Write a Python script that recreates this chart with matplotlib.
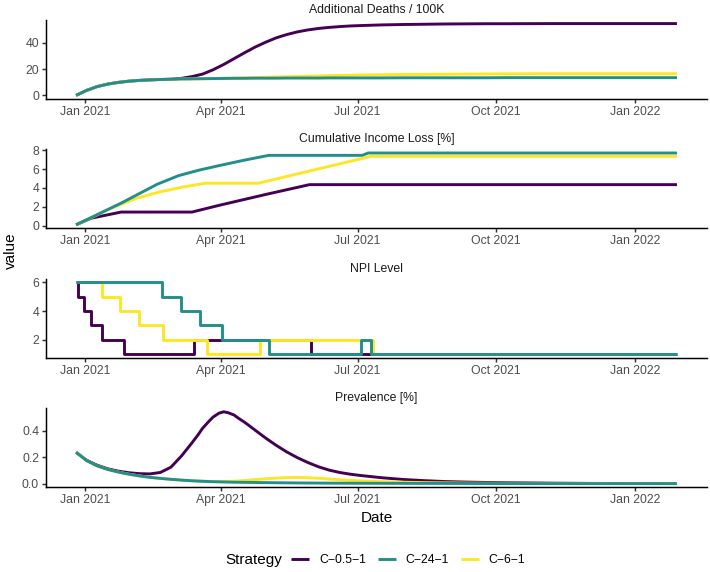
import matplotlib
matplotlib.use("Agg")
import matplotlib.pyplot as plt
import matplotlib.dates as mdates
import pandas as pd

plt.rcParams['font.family'] = ['Liberation Sans', 'DejaVu Sans']

# strategies (legend order) and viridis colours
strategies = ["C\u22120.5\u22121", "C\u221224\u22121", "C\u22126\u22121"]
colors = ["#440154", "#21908C", "#FDE725"]
zorders = [2, 4, 3]

# shared date grid for the smooth series
grid_dates = ["2020-12-26", "2021-01-02", "2021-01-09", "2021-01-16", "2021-01-23",
              "2021-01-30", "2021-02-06", "2021-02-13", "2021-02-20", "2021-02-27",
              "2021-03-06", "2021-03-13", "2021-03-20", "2021-03-27", "2021-04-03",
              "2021-04-10", "2021-04-17", "2021-04-24", "2021-05-01", "2021-05-08",
              "2021-05-15", "2021-05-22", "2021-05-29", "2021-06-05", "2021-06-12",
              "2021-06-19", "2021-06-26", "2021-07-03", "2021-07-17", "2021-07-31",
              "2021-08-14", "2021-08-28", "2021-09-11", "2021-09-25", "2021-10-09",
              "2021-11-06", "2021-12-04", "2022-01-01", "2022-01-29"]

# Additional Deaths / 100K
deaths_c05 = [0.0, 3.8, 6.7, 8.6, 9.9, 10.8, 11.4, 11.8, 12.1, 12.3,
              13.0, 14.3, 16.2, 19.5, 23.5, 28.0, 32.5, 36.8, 40.5, 43.8,
              46.3, 48.3, 49.8, 50.9, 51.7, 52.3, 52.8, 53.1, 53.6, 53.9,
              54.1, 54.3, 54.4, 54.5, 54.5, 54.6, 54.6, 54.6, 54.6]
deaths_c24 = [0.0, 3.8, 6.7, 8.6, 9.9, 10.8, 11.4, 11.8, 12.1, 12.3,
              12.5, 12.6, 12.7, 12.8, 12.9, 13.0, 13.0, 13.1, 13.1, 13.1,
              13.2, 13.2, 13.2, 13.2, 13.3, 13.3, 13.3, 13.3, 13.3, 13.4,
              13.4, 13.4, 13.4, 13.4, 13.5, 13.5, 13.5, 13.5, 13.5]
deaths_c6 = [0.0, 3.8, 6.7, 8.6, 9.9, 10.8, 11.4, 11.8, 12.1, 12.3,
             12.5, 12.6, 12.7, 12.8, 13.0, 13.2, 13.4, 13.6, 13.8, 14.0,
             14.2, 14.4, 14.6, 14.8, 15.0, 15.2, 15.3, 15.5, 15.7, 15.9,
             16.0, 16.1, 16.2, 16.3, 16.4, 16.5, 16.5, 16.5, 16.5]

# Prevalence [%]  (C-0.5-1 has extra dates around its peak)
prev_dates_c05 = ["2020-12-26", "2021-01-02", "2021-01-09", "2021-01-16", "2021-01-23",
                  "2021-01-30", "2021-02-06", "2021-02-13", "2021-02-20", "2021-02-27",
                  "2021-03-06", "2021-03-13", "2021-03-17", "2021-03-20", "2021-03-24",
                  "2021-03-27", "2021-03-31", "2021-04-03", "2021-04-06", "2021-04-10",
                  "2021-04-13", "2021-04-17", "2021-04-24", "2021-05-01", "2021-05-08",
                  "2021-05-15", "2021-05-22", "2021-05-29", "2021-06-05", "2021-06-12",
                  "2021-06-19", "2021-06-26", "2021-07-03", "2021-07-17", "2021-07-31",
                  "2021-08-14", "2021-08-28", "2021-09-11", "2021-09-25", "2021-10-09",
                  "2021-11-06", "2021-12-04", "2022-01-01", "2022-01-29"]
prev_c05 = [0.238, 0.178, 0.14, 0.113, 0.095, 0.083, 0.076, 0.074, 0.085, 0.125,
            0.21, 0.31, 0.37, 0.42, 0.47, 0.505, 0.535, 0.545, 0.538, 0.52,
            0.495, 0.465, 0.405, 0.345, 0.29, 0.24, 0.197, 0.16, 0.128, 0.103,
            0.085, 0.072, 0.062, 0.045, 0.032, 0.023, 0.016, 0.012, 0.009, 0.007,
            0.004, 0.002, 0.0012, 0.0008]
prev_c24 = [0.238, 0.175, 0.135, 0.108, 0.088, 0.072, 0.059, 0.048, 0.04, 0.033,
            0.027, 0.022, 0.018, 0.015, 0.013, 0.011, 0.010, 0.009, 0.008, 0.007,
            0.0062, 0.0055, 0.005, 0.0045, 0.004, 0.0037, 0.0034, 0.0031, 0.0027, 0.0024,
            0.002, 0.0018, 0.0016, 0.0014, 0.0012, 0.001, 0.0008, 0.0006, 0.0005]
prev_c6 = [0.238, 0.175, 0.135, 0.108, 0.088, 0.072, 0.059, 0.048, 0.04, 0.033,
           0.027, 0.022, 0.019, 0.017, 0.017, 0.019, 0.024, 0.031, 0.037, 0.042,
           0.046, 0.047, 0.045, 0.041, 0.035, 0.03, 0.025, 0.021, 0.015, 0.011,
           0.008, 0.006, 0.0045, 0.0035, 0.0028, 0.002, 0.0014, 0.001, 0.0008]

# Cumulative Income Loss [%] (piecewise linear)
inc_dates_c05 = ["2020-12-26", "2021-01-05", "2021-01-25", "2021-03-13", "2021-04-01",
                 "2021-05-02", "2021-05-30", "2022-01-29"]
inc_c05 = [0.1, 0.8, 1.45, 1.45, 2.2, 3.35, 4.35, 4.35]
inc_dates_c24 = ["2020-12-26", "2021-01-25", "2021-02-18", "2021-03-04", "2021-03-18",
                 "2021-04-01", "2021-04-17", "2021-05-03", "2021-07-04", "2021-07-08",
                 "2022-01-29"]
inc_c24 = [0.1, 2.4, 4.4, 5.3, 5.9, 6.4, 6.95, 7.45, 7.45, 7.7, 7.7]
inc_dates_c6 = ["2020-12-26", "2021-01-19", "2021-02-04", "2021-02-20", "2021-03-07",
                "2021-03-22", "2021-04-26", "2021-07-10", "2022-01-29"]
inc_c6 = [0.1, 1.9, 2.9, 3.6, 4.1, 4.5, 4.5, 7.35, 7.35]

# NPI Level (steps)
npi_dates_c05 = ["2020-12-26", "2020-12-27", "2020-12-31", "2021-01-05", "2021-01-12",
                 "2021-01-27", "2021-03-14", "2021-05-31", "2022-01-29"]
npi_c05 = [6, 5, 4, 3, 2, 1, 2, 1, 1]
npi_dates_c24 = ["2020-12-26", "2021-02-21", "2021-03-06", "2021-03-18", "2021-04-02",
                 "2021-05-03", "2021-07-03", "2021-07-10", "2022-01-29"]
npi_c24 = [6, 5, 4, 3, 2, 1, 2, 1, 1]
npi_dates_c6 = ["2020-12-26", "2021-01-12", "2021-01-24", "2021-02-06", "2021-02-22",
                "2021-03-23", "2021-04-27", "2021-07-11", "2022-01-29"]
npi_c6 = [6, 5, 4, 3, 2, 1, 2, 1, 1]

panels = [
    ("Additional Deaths / 100K", [(grid_dates, deaths_c05), (grid_dates, deaths_c24), (grid_dates, deaths_c6)], False, [0, 20, 40], "{:.0f}"),
    ("Cumulative Income Loss [%]", [(inc_dates_c05, inc_c05), (inc_dates_c24, inc_c24), (inc_dates_c6, inc_c6)], False, [0, 2, 4, 6, 8], "{:.0f}"),
    ("NPI Level", [(npi_dates_c05, npi_c05), (npi_dates_c24, npi_c24), (npi_dates_c6, npi_c6)], True, [2, 4, 6], "{:.0f}"),
    ("Prevalence [%]", [(prev_dates_c05, prev_c05), (grid_dates, prev_c24), (grid_dates, prev_c6)], False, [0.0, 0.2, 0.4], "{:.1f}"),
]

W, H = 710, 572
fig = plt.figure(figsize=(W / 100, H / 100), dpi=100)

left, right = 46, 707
top0, ph, pitch = 20, 79, 129.4
xticks = pd.to_datetime(["2021-01-01", "2021-04-01", "2021-07-01", "2021-10-01", "2022-01-01"])

handles = []
for i, (title, series, steps, yt, fmt) in enumerate(panels):
    top = top0 + i * pitch
    ax = fig.add_axes([left / W, 1 - (top + ph) / H, (right - left) / W, ph / H])
    for k, (d, v) in enumerate(series):
        ln, = ax.plot(pd.to_datetime(d), v, color=colors[k], lw=2.1, zorder=zorders[k],
                      drawstyle="steps-post" if steps else "default",
                      solid_joinstyle="round", solid_capstyle="butt", label=strategies[k])
        if i == 0:
            handles.append(ln)
    ax.margins(x=0.05, y=0.05)
    ax.set_title(title, fontsize=8.8, color="#1A1A1A", pad=5)
    ax.set_xticks(xticks)
    ax.xaxis.set_major_formatter(mdates.DateFormatter("%b %Y"))
    ax.set_yticks(yt)
    ax.set_yticklabels([fmt.format(t) for t in yt])
    for s in ["top", "right"]:
        ax.spines[s].set_visible(False)
    for s in ["left", "bottom"]:
        ax.spines[s].set_linewidth(1.07)
        ax.spines[s].set_color("black")
    ax.tick_params(length=2.75, width=1.07, color="#333333", labelsize=8.8,
                   labelcolor="#4D4D4D", pad=2.2)

fig.text(10.5 / W, 1 - 251 / H, "value", rotation=90, fontsize=11, ha="center", va="center")
fig.text((left + right) / 2 / W, 1 - 518 / H, "Date", fontsize=11, ha="center", va="center")

fig.text(225 / W, 1 - 560 / H, "Strategy", fontsize=11, ha="left", va="center")
fig.legend(handles, strategies, loc="center left", bbox_to_anchor=(291 / W, 1 - 560 / H),
           ncol=3, frameon=False, fontsize=8.8, handlelength=1.5, handletextpad=0.8,
           columnspacing=0.95, borderpad=0, borderaxespad=0)

fig.savefig("out.png", dpi=100)
